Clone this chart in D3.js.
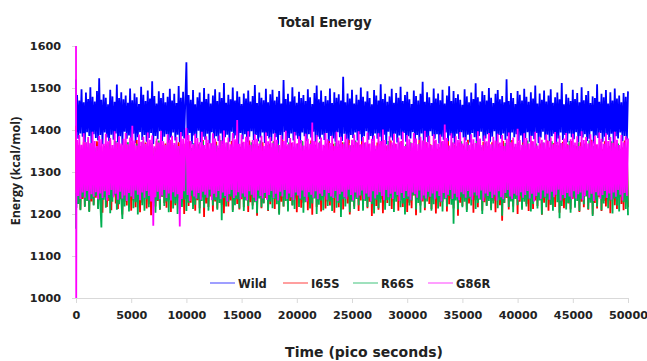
<!DOCTYPE html>
<html>
<head>
<meta charset="utf-8">
<script src="https://cdn.jsdelivr.net/npm/d3@7/dist/d3.min.js"></script>
<style>
  body { margin: 0; background: #fff; }
  .chart-container text { font-family: "DejaVu Sans", sans-serif; font-weight: bold; fill: #222; }
</style>
</head>
<body>
<div class="chart-container"></div>
<script>
const totalWidth = 647;
const totalHeight = 361;
const margin = {top: 46, right: 19, bottom: 63, left: 76};

const seriesNames = ['Wild', 'I65S', 'R66S', 'G86R'];
const seriesColors = ['#0000ff', '#ff0000', '#00b050', '#ff00ff'];
const xTicks = [0, 5000, 10000, 15000, 20000, 25000, 30000, 35000, 40000, 45000, 50000];
const yTicks = [1000, 1100, 1200, 1300, 1400, 1500, 1600];

// energies (kcal/mol): first three at 0, 20, 40 ps, then one every 100 ps up to 50000
const startTimes = [0, 20, 40];
const sampleStep = 100;

const wild = [1520, 1470, 1395,
  1483,1379,1470,1392,1497,1384,1466,1371,1489,1395,1474,1386,1502,1368,1479,1390,1468,1381,1493,1375,1523,1388,1472,1366,1485,
  1394,1477,1382,1461,1373,1496,1389,1480,1377,1467,1392,1508,1370,1476,1385,1490,1364,1473,1396,1482,1379,1465,1387,1499,1374,
  1471,1391,1487,1369,1478,1383,1462,1395,1503,1376,1484,1388,1469,1372,1494,1381,1475,1393,1516,1367,1481,1386,1463,1378,1492,
  1397,1476,1373,1488,1384,1466,1390,1479,1369,1498,1382,1470,1394,1486,1375,1464,1389,1505,1371,1477,1385,1491,1380,1468,1561,
  1376,1483,1393,1472,1366,1495,1387,1461,1381,1478,1398,1489,1370,1467,1384,1500,1377,1474,1391,1486,1368,1463,1395,1482,1379,
  1497,1385,1469,1374,1490,1392,1476,1367,1512,1383,1465,1389,1484,1372,1473,1396,1501,1380,1470,1387,1492,1365,1479,1393,1462,
  1378,1487,1390,1475,1371,1494,1384,1468,1397,1481,1376,1507,1388,1464,1373,1489,1382,1477,1394,1471,1369,1498,1386,1466,1380,
  1485,1374,1496,1391,1470,1383,1479,1366,1493,1388,1463,1377,1519,1395,1474,1370,1486,1381,1468,1392,1502,1375,1480,1387,1465,
  1379,1491,1368,1476,1394,1483,1385,1469,1373,1497,1390,1478,1382,1462,1396,1488,1371,1506,1384,1473,1378,1494,1389,1467,1376,
  1481,1393,1471,1367,1499,1386,1464,1380,1490,1372,1477,1395,1485,1383,1470,1374,1527,1391,1466,1378,1487,1369,1475,1388,1496,
  1381,1463,1394,1484,1375,1472,1390,1501,1368,1479,1385,1468,1397,1492,1377,1476,1386,1461,1373,1495,1392,1482,1379,1470,1384,
  1509,1371,1474,1389,1486,1366,1467,1396,1480,1382,1498,1375,1465,1391,1488,1370,1477,1387,1503,1378,1469,1393,1483,1372,1491,
  1385,1473,1380,1462,1395,1494,1369,1481,1388,1470,1376,1486,1392,1515,1374,1467,1383,1490,1371,1478,1397,1464,1386,1499,1379,
  1475,1390,1487,1368,1471,1384,1496,1377,1463,1394,1482,1373,1504,1387,1469,1381,1493,1366,1476,1391,1485,1378,1472,1395,1460,
  1382,1497,1375,1480,1389,1466,1370,1489,1393,1474,1383,1511,1367,1478,1386,1468,1396,1492,1374,1483,1380,1470,1390,1500,1372,
  1477,1384,1464,1397,1486,1369,1495,1388,1473,1379,1481,1392,1466,1376,1521,1385,1469,1371,1488,1394,1476,1383,1462,1390,1493,
  1374,1484,1387,1470,1366,1498,1381,1479,1395,1467,1372,1490,1386,1475,1378,1506,1393,1463,1369,1487,1382,1472,1396,1494,1377,
  1468,1389,1482,1373,1497,1385,1465,1391,1478,1367,1489,1380,1473,1394,1512,1376,1461,1388,1485,1371,1477,1392,1469,1383,1496,
  1378,1474,1395,1488,1370,1466,1386,1502,1382,1471,1390,1483,1374,1493,1379,1464,1397,1480,1368,1476,1387,1509,1381,1467,1393,
  1486,1372,1478,1384,1495,1389,1463,1376,1490,1391,1470,1369,1499,1385,1475,1380,1482,1394,1466,1373,1488,1386,1479,1377,1492];

const i65s = [1410, 1300, 1225,
  1352,1228,1364,1211,1340,1236,1371,1219,1347,1242,1359,1207,1334,1230,1368,1222,1345,1239,1373,1214,1338,1233,1361,1203,1349,
  1240,1366,1217,1342,1231,1375,1209,1356,1244,1337,1225,1369,1212,1350,1235,1363,1199,1344,1229,1372,1220,1339,1243,1358,1208,
  1367,1232,1341,1216,1376,1238,1353,1204,1362,1227,1335,1245,1370,1213,1348,1223,1365,1197,1343,1237,1357,1218,1374,1231,1336,
  1210,1360,1241,1346,1226,1368,1215,1339,1234,1377,1205,1351,1243,1364,1221,1333,1238,1371,1212,1355,1229,1342,1200,1367,1236,
  1345,1219,1373,1227,1338,1244,1361,1208,1350,1233,1366,1214,1340,1240,1376,1193,1354,1225,1369,1217,1335,1242,1359,1206,1347,
  1230,1372,1213,1357,1237,1341,1222,1365,1202,1348,1245,1363,1218,1336,1232,1374,1209,1352,1239,1368,1224,1343,1211,1360,1235,
  1370,1216,1344,1241,1358,1205,1375,1228,1339,1220,1366,1236,1349,1196,1362,1243,1334,1214,1371,1226,1355,1238,1346,1207,1367,
  1223,1340,1240,1373,1212,1353,1234,1364,1201,1337,1229,1377,1218,1350,1244,1361,1210,1345,1231,1369,1221,1342,1237,1356,1204,
  1368,1235,1338,1215,1372,1227,1347,1242,1359,1209,1343,1224,1375,1198,1352,1239,1365,1217,1336,1233,1370,1206,1348,1244,1362,
  1213,1341,1230,1374,1220,1355,1236,1367,1203,1339,1243,1360,1216,1346,1228,1371,1211,1358,1238,1335,1225,1376,1199,1351,1234,
  1364,1218,1344,1241,1369,1207,1337,1232,1373,1222,1354,1245,1340,1214,1366,1229,1348,1195,1363,1237,1342,1219,1370,1210,1357,
  1236,1372,1202,1345,1231,1361,1226,1338,1243,1375,1212,1350,1221,1367,1240,1334,1208,1359,1233,1374,1217,1343,1239,1365,1205,
  1353,1227,1369,1214,1341,1244,1362,1197,1347,1235,1376,1220,1339,1230,1358,1209,1371,1241,1344,1224,1366,1212,1336,1238,1373,
  1201,1355,1234,1346,1218,1368,1229,1340,1243,1360,1206,1374,1223,1351,1236,1337,1213,1365,1240,1348,1196,1370,1227,1342,1219,
  1363,1239,1335,1210,1377,1225,1352,1242,1366,1203,1344,1233,1369,1216,1340,1245,1356,1208,1372,1228,1338,1220,1361,1237,1349,
  1214,1371,1231,1343,1204,1359,1240,1367,1221,1336,1184,1374,1226,1350,1238,1362,1211,1345,1235,1376,1218,1339,1243,1357,1200,
  1366,1229,1348,1215,1370,1236,1341,1223,1364,1207,1353,1244,1373,1212,1337,1232,1360,1219,1347,1241,1368,1198,1355,1227,1342,
  1239,1375,1208,1358,1222,1345,1233,1369,1217,1339,1245,1363,1203,1351,1230,1372,1214,1336,1242,1366,1225,1349,1211,1374,1236,
  1340,1220,1362,1238,1352,1205,1371,1229,1344,1216,1367,1243,1335,1210,1359,1234,1377,1199,1346,1226,1365,1213,1341,1240,1369,
  1207,1354,1231,1373,1218,1338,1244,1361,1202,1348,1235,1370,1221,1343,1212,1366,1239,1337,1224,1358,1209,1375,1230,1345,1216];

const r66s = [1165, 1250, 1215,
  1346,1224,1361,1209,1337,1240,1355,1217,1370,1231,1342,1205,1366,1236,1333,1220,1358,1243,1349,1212,1372,1227,1168,1339,1234,
  1362,1215,1344,1238,1368,1202,1351,1229,1336,1245,1374,1210,1357,1223,1341,1237,1188,1365,1218,1347,1232,1371,1206,1338,1241,
  1359,1214,1345,1228,1367,1199,1353,1239,1334,1221,1373,1208,1348,1235,1362,1216,1340,1244,1369,1226,1343,1203,1356,1233,1375,
  1211,1339,1242,1364,1219,1350,1230,1371,1204,1337,1237,1360,1213,1346,1225,1368,1200,1354,1240,1335,1217,1366,1234,1349,1207,
  1372,1227,1341,1243,1357,1212,1369,1222,1338,1236,1363,1201,1352,1231,1374,1215,1344,1239,1359,1208,1336,1245,1367,1220,1348,
  1233,1365,1210,1340,1226,1376,1185,1355,1238,1343,1218,1370,1229,1337,1242,1361,1205,1349,1221,1373,1235,1339,1213,1358,1240,
  1368,1207,1347,1232,1362,1219,1335,1244,1371,1211,1353,1228,1366,1202,1342,1237,1375,1216,1350,1225,1334,1241,1364,1209,1345,
  1230,1358,1214,1372,1236,1340,1223,1367,1198,1351,1243,1336,1218,1363,1231,1347,1206,1370,1239,1344,1220,1360,1212,1338,1245,
  1365,1217,1352,1234,1374,1203,1341,1228,1359,1240,1333,1213,1369,1225,1346,1237,1362,1200,1350,1222,1373,1232,1339,1209,1356,
  1242,1368,1219,1343,1230,1361,1207,1337,1238,1370,1215,1354,1226,1366,1193,1345,1235,1371,1218,1340,1241,1357,1204,1363,1229,
  1349,1212,1375,1236,1338,1221,1364,1244,1352,1208,1369,1231,1342,1217,1360,1239,1335,1224,1372,1201,1355,1234,1346,1214,1367,
  1227,1339,1243,1361,1210,1348,1233,1374,1219,1344,1238,1365,1205,1351,1229,1336,1242,1370,1216,1358,1225,1341,1199,1366,1236,
  1353,1220,1371,1232,1337,1245,1360,1211,1347,1226,1368,1203,1342,1237,1375,1215,1356,1230,1334,1241,1363,1208,1350,1223,1369,
  1238,1345,1213,1359,1228,1372,1206,1340,1235,1366,1218,1353,1243,1338,1222,1370,1177,1348,1232,1361,1211,1344,1240,1373,1216,
  1357,1229,1343,1205,1367,1237,1339,1220,1364,1244,1350,1212,1374,1226,1336,1234,1359,1200,1346,1239,1370,1219,1352,1231,1341,
  1209,1365,1225,1348,1242,1372,1214,1337,1233,1362,1196,1355,1227,1369,1240,1342,1217,1374,1230,1345,1204,1360,1236,1338,1221,
  1371,1243,1351,1210,1366,1229,1340,1218,1375,1235,1347,1206,1363,1224,1335,1241,1368,1213,1354,1232,1343,1199,1370,1238,1349,
  1216,1361,1234,1339,1222,1373,1208,1352,1245,1365,1228,1344,1190,1369,1219,1337,1237,1358,1211,1346,1226,1374,1203,1350,1240,
  1364,1215,1342,1231,1370,1207,1356,1236,1338,1223,1367,1242,1348,1212,1375,1227,1341,1195,1362,1234,1353,1218,1336,1244,1372,
  1209,1347,1225,1366,1238,1340,1214,1359,1232,1373,1201,1351,1237,1344,1220,1368,1206,1355,1241,1339,1228,1363,1212,1346,1197];

const g86r = [1600, 1000, 1255,
  1376,1243,1388,1236,1365,1251,1392,1239,1371,1255,1383,1233,1369,1247,1396,1241,1374,1252,1362,1235,1386,1249,1378,1238,1367,
  1254,1391,1232,1373,1245,1381,1257,1364,1240,1397,1248,1370,1234,1385,1253,1368,1237,1379,1244,1393,1231,1366,1250,1382,1242,
  1410,1236,1375,1256,1363,1246,1389,1233,1372,1251,1384,1239,1367,1255,1394,1243,1377,1230,1387,1172,1361,1240,1380,1253,1370,
  1235,1398,1244,1373,1257,1365,1238,1390,1249,1376,1232,1386,1252,1369,1241,1383,1247,1362,1170,1395,1236,1379,1254,1368,1405,
  1245,1388,1231,1374,1256,1366,1242,1391,1237,1381,1250,1371,1234,1396,1253,1364,1246,1385,1239,1377,1258,1369,1233,1392,1248,
  1380,1240,1363,1255,1387,1235,1375,1251,1399,1243,1370,1230,1382,1247,1366,1257,1393,1238,1378,1244,1424,1252,1367,1236,1389,
  1249,1372,1241,1384,1233,1397,1254,1365,1246,1376,1239,1390,1231,1379,1256,1368,1243,1386,1237,1362,1250,1394,1234,1373,1245,
  1383,1255,1369,1238,1392,1248,1377,1232,1364,1253,1387,1242,1374,1257,1398,1236,1366,1249,1381,1240,1371,1233,1395,1251,1368,
  1244,1385,1237,1376,1256,1363,1241,1391,1230,1379,1252,1367,1246,1418,1239,1374,1254,1388,1235,1370,1248,1382,1243,1365,1257,
  1393,1234,1378,1250,1369,1242,1386,1238,1362,1255,1396,1231,1375,1247,1384,1253,1367,1240,1390,1236,1380,1258,1364,1245,1377,
  1232,1389,1251,1372,1239,1397,1244,1366,1256,1383,1235,1371,1249,1394,1241,1368,1230,1379,1254,1387,1237,1363,1246,1392,1252,
  1374,1243,1401,1233,1376,1257,1365,1240,1385,1248,1370,1236,1391,1253,1367,1245,1382,1231,1373,1250,1396,1238,1362,1255,1388,
  1242,1378,1234,1369,1251,1393,1247,1380,1239,1366,1256,1384,1232,1375,1244,1398,1237,1371,1253,1386,1241,1364,1249,1390,1235,
  1377,1254,1367,1243,1389,1230,1374,1250,1413,1238,1381,1246,1363,1257,1392,1236,1370,1248,1385,1240,1376,1233,1395,1252,1368,
  1247,1383,1239,1372,1255,1365,1241,1390,1234,1378,1251,1369,1244,1397,1237,1380,1256,1364,1231,1387,1249,1373,1243,1393,1253,
  1366,1238,1384,1246,1375,1232,1391,1254,1370,1240,1388,1235,1362,1250,1379,1257,1394,1242,1371,1236,1382,1248,1367,1244,1403,
  1233,1376,1252,1365,1239,1392,1245,1381,1255,1368,1237,1386,1248,1373,1230,1396,1243,1363,1251,1384,1236,1377,1256,1370,1241,
  1389,1249,1374,1234,1382,1253,1366,1240,1395,1246,1372,1258,1387,1232,1369,1245,1380,1238,1393,1250,1364,1242,1378,1235,1391,
  1254,1370,1237,1385,1247,1362,1251,1397,1233,1376,1243,1383,1256,1368,1239,1390,1248,1373,1231,1386,1252,1366,1244,1394,1236,
  1379,1245,1367,1255,1392,1238,1374,1249,1383,1234,1369,1251,1396,1241,1377,1257,1364,1246,1388,1232,1371,1250,1385,1243,1380];

const seriesValues = [wild, i65s, r66s, g86r];

const timeAt = i => i < startTimes.length ? startTimes[i] : (i - startTimes.length + 1) * sampleStep;

const svg = d3.select('.chart-container')
    .append('svg')
    .attr('width', totalWidth)
    .attr('height', totalHeight);

const scaleX = d3.scaleLinear()
    .domain([0, 50000])
    .range([margin.left, totalWidth - margin.right]);

const scaleY = d3.scaleLinear()
    .domain([1000, 1600])
    .range([totalHeight - margin.bottom, margin.top]);

// axes
const xAxis = svg.append('g')
    .attr('transform', `translate(0,${scaleY(1000)})`)
    .call(d3.axisBottom(scaleX).tickValues(xTicks).tickSize(5).tickPadding(8).tickFormat(d3.format('d')));
const yAxis = svg.append('g')
    .attr('transform', `translate(${scaleX(0)},0)`)
    .call(d3.axisLeft(scaleY).tickValues(yTicks).tickSize(4).tickPadding(11).tickFormat(d3.format('d')));

[xAxis, yAxis].forEach(a => {
  a.select('.domain').attr('stroke', '#d9d9d9');
  a.selectAll('.tick line').attr('stroke', '#d9d9d9');
  a.selectAll('.tick text').style('font-size', '11.2px').attr('fill', '#222');
});

// series
const line = d3.line()
    .x((d, i) => scaleX(timeAt(i)))
    .y(d => scaleY(d));

svg.append('g')
  .selectAll('path')
  .data(seriesValues)
  .enter()
  .append('path')
    .attr('d', line)
    .attr('fill', 'none')
    .attr('stroke', (d, i) => seriesColors[i])
    .attr('stroke-width', 1.8)
    .attr('stroke-linejoin', 'miter')
    .attr('stroke-miterlimit', 1);

// legend
const legendX = [210, 283, 353, 428];
const legend = svg.append('g').attr('transform', 'translate(0,283)');
seriesNames.forEach((name, i) => {
  legend.append('line')
    .attr('x1', legendX[i]).attr('x2', legendX[i] + 25)
    .attr('y1', 0).attr('y2', 0)
    .attr('stroke', seriesColors[i])
    .attr('stroke-opacity', 0.5)
    .attr('stroke-width', 1.5);
  legend.append('text')
    .attr('x', legendX[i] + 28)
    .attr('y', 4.5)
    .style('font-size', '11.5px')
    .text(name);
});

// titles
svg.append('text')
    .attr('x', 325).attr('y', 27)
    .attr('text-anchor', 'middle')
    .style('font-size', '13.3px')
    .text('Total Energy');

svg.append('text')
    .attr('x', 364).attr('y', 357)
    .attr('text-anchor', 'middle')
    .style('font-size', '14px')
    .text('Time (pico seconds)');

svg.append('text')
    .attr('transform', 'translate(20,171) rotate(-90)')
    .attr('text-anchor', 'middle')
    .style('font-family', '"Open Sans", sans-serif')
    .style('font-size', '12.5px')
    .text('Energy (kcal/mol)');
</script>
</body>
</html>
